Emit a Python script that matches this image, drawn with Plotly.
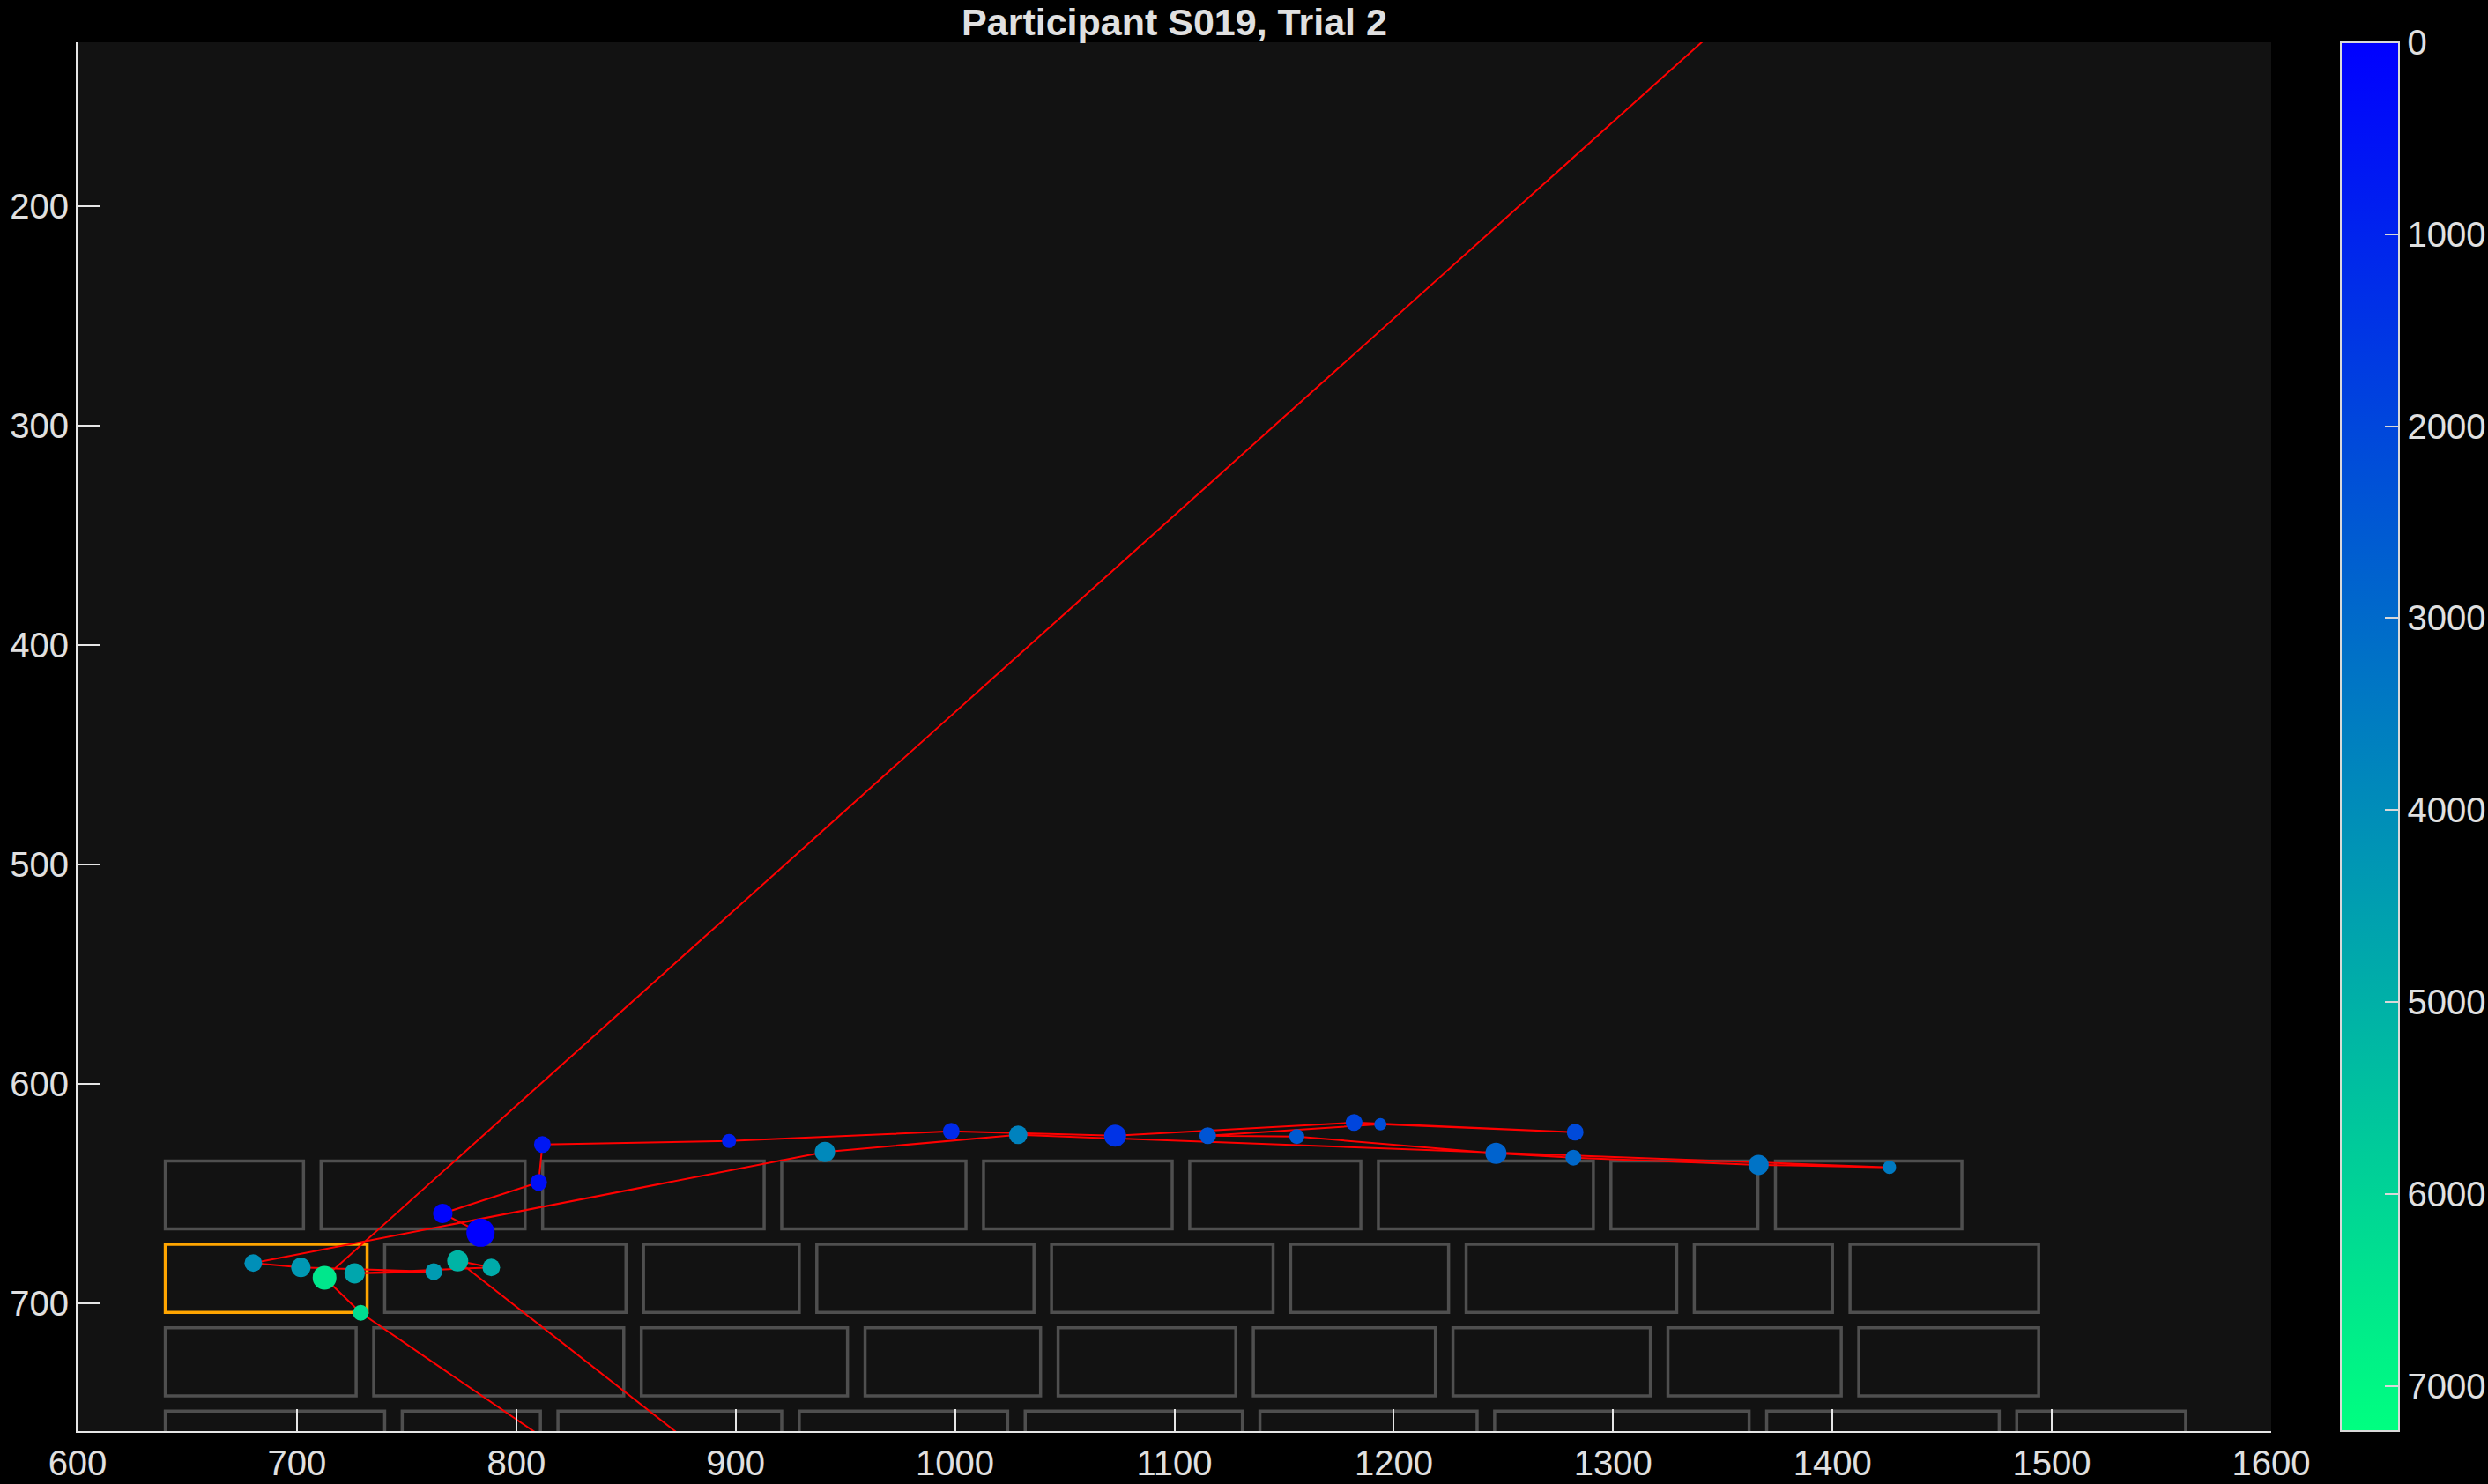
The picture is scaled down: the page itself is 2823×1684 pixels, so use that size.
import plotly.graph_objects as go
import numpy as np

title_text = "Participant S019, Trial 2"

# Fixations in scan order (screen px); two fixations fall outside the shown window
fix_x = [783.7, 766.5, 810.2, 811.9, 897.0, 998.3, 1073.0, 1181.9, 1282.7, 1193.9,
         1115.2, 1155.8, 1246.6, 1281.9, 1366.3, 1426.0, 1028.8, 940.7, 680.1, 701.8,
         762.4, 726.3, 788.6, 773.3, 1319.0, 729.1, 712.6, 1450.0]
fix_y = [667.7, 658.9, 644.8, 627.5, 625.9, 621.5, 623.5, 617.5, 621.9, 618.3,
         623.5, 623.9, 631.5, 633.5, 636.8, 637.9, 623.1, 630.9, 681.5, 683.5,
         685.4, 686.2, 683.5, 680.5, 1108.0, 704.2, 688.2, 27.0]
fix_t = [0, 120, 430, 650, 900, 1200, 1450, 1950, 2100, 2250,
         2400, 2550, 2800, 2950, 3250, 3450, 3700, 3900, 4050, 4300,
         4400, 4700, 4850, 5100, 5700, 6300, 6550, 7236]
fix_dur = [711, 336, 251, 251, 178, 251, 434, 251, 251, 136,
           251, 201, 400, 225, 367, 156, 306, 367, 278, 336,
           251, 367, 278, 400, 278, 225, 506, 278]

# Keyboard key boxes: four rows, left/right edges per key
row_top = [635, 673, 711, 749]
row_bottom = [666, 704, 742, 780]
key_left = [
    [640, 711, 812, 921, 1013, 1107, 1193, 1299, 1374],
    [640, 740, 858, 937, 1044, 1153, 1233, 1337, 1408],
    [640, 735, 857, 959, 1047, 1136, 1227, 1325, 1412],
    [640, 748, 819, 929, 1032, 1139, 1246, 1370, 1484],
]
key_right = [
    [703, 804, 913, 1005, 1099, 1185, 1291, 1366, 1459],
    [732, 850, 929, 1036, 1145, 1225, 1329, 1400, 1494],
    [727, 849, 951, 1039, 1128, 1219, 1317, 1404, 1494],
    [740, 811, 921, 1024, 1131, 1238, 1362, 1476, 1561],
]
target_row, target_key = 1, 0

x_ticks = list(range(600, 1601, 100))
y_ticks = list(range(200, 701, 100))
cbar_ticks = list(range(0, 7001, 1000))
t_max = max(fix_t)

TXT = "#e0e0e0"
AX = "#e6e6e6"
FONT = "Liberation Sans, Arial, sans-serif"
TICK_SIZE = 40

fig = go.Figure()

# scanpath
fig.add_trace(go.Scatter(
    x=fix_x, y=fix_y, mode="lines",
    line=dict(color="#ff0000", width=2),
    hoverinfo="skip", showlegend=False,
))

# fixations (colour = time, reversed colour bar with 0 at top)
sizes = [1.2 * np.sqrt(d) for d in fix_dur]
fig.add_trace(go.Scatter(
    x=fix_x, y=fix_y, mode="markers",
    marker=dict(
        size=sizes,
        color=[-t for t in fix_t],
        cmin=-t_max, cmax=0,
        colorscale=[[0, "rgb(0,255,128)"], [1, "rgb(0,0,255)"]],
        line=dict(width=0),
        opacity=1,
        colorbar=dict(
            x=1.0316, xanchor="left", xpad=0,
            y=0.5, yanchor="middle", ypad=0,
            len=1, lenmode="fraction",
            thickness=66, thicknessmode="pixels",
            outlinecolor="#d9d9d9", outlinewidth=2,
            ticks="inside", ticklen=17, tickwidth=2, tickcolor="#d9d9d9",
            tickvals=[-v for v in cbar_ticks],
            ticktext=[str(v) for v in cbar_ticks],
            tickfont=dict(size=TICK_SIZE, color=TXT, family=FONT),
            bgcolor="rgba(0,0,0,0)",
        ),
    ),
    text=[str(t) for t in fix_t],
    hovertemplate="x=%{x}<br>y=%{y}<br>t=%{text}<extra></extra>",
    showlegend=False,
))

shapes = []
for r in range(len(row_top)):
    for k in range(len(key_left[r])):
        if r == target_row and k == target_key:
            continue
        shapes.append(dict(
            type="rect", xref="x", yref="y",
            x0=key_left[r][k], x1=key_right[r][k],
            y0=row_top[r], y1=row_bottom[r],
            line=dict(color="#4f4f4f", width=3.5),
            fillcolor="rgba(0,0,0,0)", layer="below",
        ))
shapes.append(dict(
    type="rect", xref="x", yref="y",
    x0=key_left[target_row][target_key], x1=key_right[target_row][target_key],
    y0=row_top[target_row], y1=row_bottom[target_row],
    line=dict(color="#ffa500", width=3.5),
    fillcolor="rgba(0,0,0,0)", layer="below",
))

fig.update_layout(
    width=2823, height=1684,
    margin=dict(l=88, r=246, t=48, b=60, autoexpand=False),
    paper_bgcolor="#000000",
    plot_bgcolor="#121212",
    shapes=shapes,
    title=dict(
        text="<b>" + title_text + "</b>",
        x=0.5, xref="paper", xanchor="center",
        y=1 - 25 / 1684, yref="container", yanchor="middle",
        font=dict(size=43, color=TXT, family=FONT),
    ),
    xaxis=dict(
        range=[600, 1600], tickvals=x_ticks,
        showgrid=False, zeroline=False, automargin=False,
        showline=True, linecolor=AX, linewidth=2, mirror=False,
        ticks="inside", ticklen=25, tickwidth=2, tickcolor=AX,
        tickfont=dict(size=TICK_SIZE, color=TXT, family=FONT),
        ticklabelstandoff=0,
    ),
    yaxis=dict(
        range=[758.1, 125.3], tickvals=y_ticks,
        showgrid=False, zeroline=False, automargin=False,
        showline=True, linecolor=AX, linewidth=2, mirror=False,
        ticks="inside", ticklen=25, tickwidth=2, tickcolor=AX,
        tickfont=dict(size=TICK_SIZE, color=TXT, family=FONT),
        ticklabelstandoff=0,
    ),
)

fig.write_html("out.html")
